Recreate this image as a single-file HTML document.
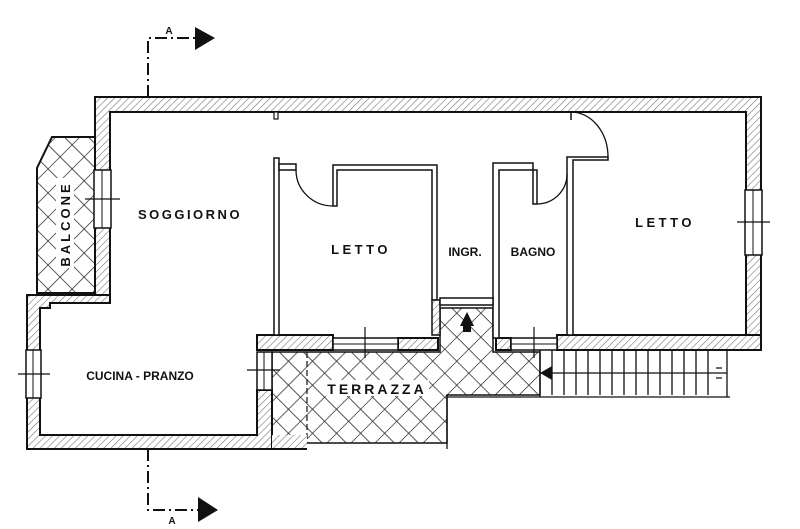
<!DOCTYPE html>
<html><head><meta charset="utf-8"><style>
html,body{margin:0;padding:0;background:#fff}
svg{display:block}
text{font-family:"Liberation Sans",sans-serif;font-weight:bold;fill:#111}
</style></head><body>
<svg width="800" height="529" viewBox="0 0 800 529" xmlns="http://www.w3.org/2000/svg">
<defs>
<pattern id="h" width="5" height="5" patternUnits="userSpaceOnUse" patternTransform="rotate(45)">
<rect width="5" height="5" fill="#fff"/><line x1="0" y1="0" x2="0" y2="5" stroke="#777" stroke-width="1.2"/></pattern>
<pattern id="x" width="17" height="17" patternUnits="userSpaceOnUse" patternTransform="rotate(45)">
<rect width="17" height="17" fill="#fff"/><line x1="0" y1="0" x2="17" y2="0" stroke="#222" stroke-width="1.4"/><line x1="0" y1="0" x2="0" y2="17" stroke="#222" stroke-width="1.4"/></pattern>
</defs>
<g stroke="#111" stroke-width="2" fill="none">
<!-- balcone -->
<polygon points="52,137 95,137 95,293 37,293 37,168" fill="url(#x)"/>
<!-- terrace -->
<polygon points="272,352 440,352 440,308 493,308 493,352 540,352 540,395 447,395 447,443 272,443" fill="url(#x)" stroke-width="1.5"/>
<line x1="307" y1="352" x2="307" y2="443" stroke-dasharray="6,3" stroke-width="1.2"/>
<!-- outer walls hatched -->
<path d="M95,97 H761 V350 H746 V112 H110 V300 H95 Z" fill="url(#h)"/>
<path d="M27,295 H110 V303 H50 V308 H40 V435 H257 V390 H272 V449 H27 Z" fill="url(#h)"/>
<rect x="272" y="435" width="35" height="14" fill="url(#h)" stroke="none"/>
<line x1="272" y1="449" x2="307" y2="449"/>
<rect x="257" y="335" width="76" height="15" fill="url(#h)"/>
<rect x="398" y="338" width="40" height="12" fill="url(#h)"/>
<rect x="496" y="338" width="15" height="12" fill="url(#h)"/>
<rect x="557" y="335" width="204" height="15" fill="url(#h)"/>
<!-- windows (white gaps) -->
<rect x="94" y="170" width="17" height="58" fill="#fff" stroke-width="1.5"/>
<line x1="102" y1="170" x2="102" y2="228" stroke-width="1"/>
<rect x="26" y="350" width="15" height="48" fill="#fff" stroke-width="1.5"/>
<line x1="33" y1="350" x2="33" y2="398" stroke-width="1"/>
<rect x="257" y="352" width="15" height="38" fill="#fff" stroke-width="1.5"/>
<line x1="264" y1="352" x2="264" y2="390" stroke-width="1"/>
<rect x="745" y="190" width="17" height="65" fill="#fff" stroke-width="1.5"/>
<line x1="753" y1="190" x2="753" y2="255" stroke-width="1"/>
<rect x="333" y="338" width="65" height="12" fill="#fff" stroke-width="1.5"/>
<line x1="333" y1="344" x2="398" y2="344" stroke-width="1"/>
<rect x="511" y="338" width="46" height="12" fill="#fff" stroke-width="1.5"/>
<line x1="511" y1="344" x2="557" y2="344" stroke-width="1"/>
<!-- window marks -->
<g stroke-width="1.2">
<line x1="85" y1="199" x2="120" y2="199"/><line x1="18" y1="374" x2="50" y2="374"/>
<line x1="247" y1="370" x2="280" y2="370"/><line x1="737" y1="222" x2="770" y2="222"/>
<line x1="365" y1="327" x2="365" y2="358"/><line x1="534" y1="327" x2="534" y2="358"/>
</g>
<!-- top door notch -->
<rect x="274" y="112" width="4" height="7" fill="#fff" stroke-width="1.2"/>
<!-- interior partitions -->
<g stroke-width="1.5" fill="#fff">
<path d="M274,158 H279 V335 H274 Z"/>
<path d="M279,164 H296 V170 H279 Z"/>
<path d="M333,165 H437 V300 H432 V170 H337 V206 H333 Z"/>
<path d="M432,300 H440 V335 H432 Z" fill="url(#h)"/>
<path d="M493,163 H533 V170 H499 V338 H493 Z"/>
<path d="M533,170 H537 V204 H533 Z"/>
<path d="M567,157 H608 V160 H573 V335 H567 Z"/>
<rect x="440" y="298" width="53" height="7"/>
</g>
<path d="M296,170 A37,36 0 0 0 333,206" stroke-width="1.3"/>
<path d="M537,204 A30,30 0 0 0 567,174" stroke-width="1.3"/>
<path d="M571,112 A37,45 0 0 1 608,157" stroke-width="1.3"/>
<line x1="571" y1="112" x2="571" y2="120" stroke-width="1.5"/>
<!-- stairs -->
<g stroke-width="1.3">
<line x1="540" y1="350" x2="540" y2="397"/>
<line x1="540" y1="373" x2="727" y2="373"/>
<line x1="447" y1="397" x2="730" y2="397"/>
<line x1="727" y1="350" x2="727" y2="397"/>
<path d="M552,350V395M564,350V395M576,350V395M588,350V395M600,350V395M612,350V395M624,350V395M636,350V395M648,350V395M660,350V395M672,350V395M684,350V395M696,350V395M708,350V395M716,368H722M716,378H722"/>
<line x1="447" y1="395" x2="447" y2="449"/>
</g>
<polygon points="540,366 540,380 552,373" fill="#111" stroke="none" transform="rotate(180 546 373)"/>
<polygon points="467,312 460,326 463,326 463,332 471,332 471,326 474,326" fill="#111" stroke="none"/>
<!-- section lines -->
<g stroke-width="2">
<path d="M148,97 V38 H198" stroke-dasharray="12,4,2,4"/>
<path d="M148,449 V510 H200" stroke-dasharray="12,4,2,4"/>
</g>
<polygon points="195,27 215,38 195,50" fill="#111" stroke="none"/>
<polygon points="198,497 218,510 198,522" fill="#111" stroke="none"/>
</g>
<text x="169" y="34" font-size="10" text-anchor="middle">A</text>
<text x="172" y="524" font-size="10" text-anchor="middle">A</text>
<text x="190" y="219" font-size="13" letter-spacing="2.5" text-anchor="middle">SOGGIORNO</text>
<text x="361" y="254" font-size="13" letter-spacing="3.5" text-anchor="middle">LETTO</text>
<text x="465" y="256" font-size="12" text-anchor="middle">INGR.</text>
<text x="533" y="256" font-size="12" text-anchor="middle">BAGNO</text>
<text x="665" y="227" font-size="13" letter-spacing="3.5" text-anchor="middle">LETTO</text>
<text x="140" y="380" font-size="12" text-anchor="middle">CUCINA - PRANZO</text>
<rect x="325" y="380" width="104" height="16" fill="#fff"/>
<text x="377" y="394" font-size="14" letter-spacing="3" text-anchor="middle">TERRAZZA</text>
<rect x="56" y="178" width="18" height="90" fill="#fff"/>
<text x="0" y="0" font-size="13" letter-spacing="3" text-anchor="middle" transform="translate(70,224) rotate(-90)">BALCONE</text>
</svg>
</body></html>
